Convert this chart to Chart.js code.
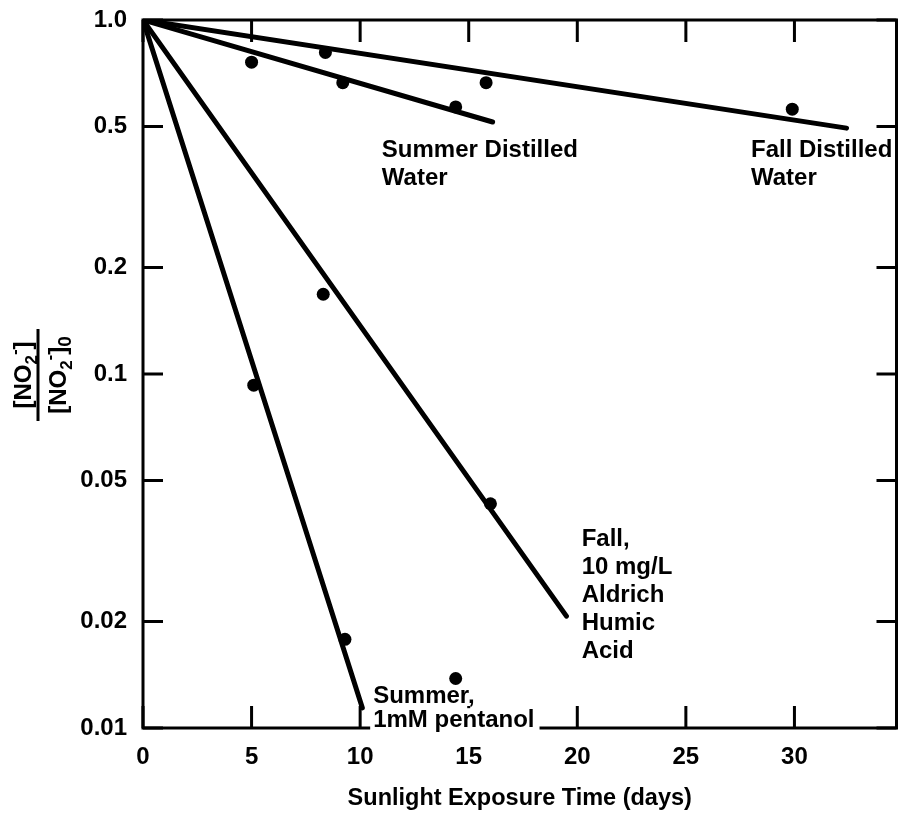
<!DOCTYPE html>
<html>
<head>
<meta charset="utf-8">
<title>Nitrite decay in sunlight</title>
<script src="https://cdn.jsdelivr.net/npm/chart.js@4.4.1/dist/chart.umd.min.js"></script>
<style>
  body { margin: 0; background: #fff; }
  canvas { display: block; }
</style>
</head>
<body>
<canvas id="nitriteChart" width="903" height="823"></canvas>
<script>
const summerWaterDays = [5.0, 9.2, 14.4];
const summerWaterRatio = [0.76, 0.665, 0.568];
const fallWaterDays = [8.4, 15.8, 29.9];
const fallWaterRatio = [0.81, 0.665, 0.56];
const fallHumicDays = [8.3, 16.0];
const fallHumicRatio = [0.168, 0.043];
const summerPentanolDays = [5.1, 9.3, 14.4];
const summerPentanolRatio = [0.093, 0.0178, 0.0138];

// fitted lines: start and end of each
const summerWaterFitDays = [0, 16.1];
const summerWaterFitRatio = [1, 0.515];
const fallWaterFitDays = [0, 32.4];
const fallWaterFitRatio = [1, 0.495];
const fallHumicFitDays = [0, 19.5];
const fallHumicFitRatio = [1, 0.0207];
const summerPentanolFitDays = [0, 10.1];
const summerPentanolFitRatio = [1, 0.0114];

const xTicks = [0, 5, 10, 15, 20, 25, 30];
const yTicks = [0.01, 0.02, 0.05, 0.1, 0.2, 0.5, 1.0];

const FONT = "'Liberation Sans', Arial, Helvetica, sans-serif";
const black = '#000';

function pts(xs, ys) {
  return xs.map((x, i) => ({ x: x, y: ys[i] }));
}

function pointSet(xs, ys) {
  return {
    data: pts(xs, ys),
    showLine: false,
    pointRadius: 6.5,
    pointBackgroundColor: black,
    pointBorderWidth: 0
  };
}

function fitSet(xs, ys) {
  return {
    data: pts(xs, ys),
    showLine: true,
    borderColor: black,
    borderWidth: 5,
    borderCapStyle: 'round',
    pointRadius: 0
  };
}

// curve labels, anchored in data units (left edge, centre of first line)
const curveLabels = [
  { lines: ['Summer Distilled', 'Water'], x: 11.0, y: 0.429, gap: 28 },
  { lines: ['Fall Distilled', 'Water'], x: 28.0, y: 0.429, gap: 28 },
  { lines: ['Fall,', '10 mg/L', 'Aldrich', 'Humic', 'Acid'], x: 20.2, y: 0.034, gap: 28 },
  { lines: ['Summer,', '1mM pentanol'], x: 10.6, y: 0.0123, gap: 24, blank: true }
];

function drawParts(ctx, parts, cx, base, size) {
  let total = 0;
  parts.forEach(p => {
    ctx.font = 'bold ' + Math.round(size * (p.s || 1)) + 'px ' + FONT;
    p.w = ctx.measureText(p.t).width;
    total += p.w;
  });
  let x = cx - total / 2;
  parts.forEach(p => {
    ctx.font = 'bold ' + Math.round(size * (p.s || 1)) + 'px ' + FONT;
    ctx.fillText(p.t, x, base + (p.dy || 0) * size);
    x += p.w;
  });
}

const framePlugin = {
  id: 'frame',
  afterDatasetsDraw(chart) {
    const { ctx, chartArea: a, scales } = chart;
    const xs = scales.x, ys = scales.y;
    ctx.save();
    ctx.strokeStyle = black;
    ctx.lineWidth = 3;
    ctx.lineCap = 'square';
    ctx.strokeRect(a.left, a.top, a.right - a.left, a.bottom - a.top);

    // inward ticks on all four sides
    ctx.lineCap = 'butt';
    xTicks.forEach(v => {
      const px = xs.getPixelForValue(v);
      ctx.beginPath();
      ctx.moveTo(px, a.bottom); ctx.lineTo(px, a.bottom - 22);
      ctx.moveTo(px, a.top); ctx.lineTo(px, a.top + 22);
      ctx.stroke();
    });
    yTicks.forEach(v => {
      const py = ys.getPixelForValue(v);
      ctx.beginPath();
      ctx.moveTo(a.left, py); ctx.lineTo(a.left + 20, py);
      ctx.moveTo(a.right, py); ctx.lineTo(a.right - 20, py);
      ctx.stroke();
    });

    // curve labels
    ctx.fillStyle = black;
    ctx.textBaseline = 'middle';
    ctx.textAlign = 'left';
    ctx.font = 'bold 24px ' + FONT;
    curveLabels.forEach(l => {
      const lx = xs.getPixelForValue(l.x);
      const ly = ys.getPixelForValue(l.y);
      if (l.blank) {
        const w = Math.max(...l.lines.map(t => ctx.measureText(t).width));
        ctx.fillStyle = '#fff';
        ctx.fillRect(lx - 3, ly + l.gap - 12, w + 8, 26);
        ctx.fillStyle = black;
      }
      l.lines.forEach((t, i) => ctx.fillText(t, lx, ly + i * l.gap));
    });

    // y axis title: [NO2-] / [NO2-]0, rotated
    ctx.translate(38, 375);
    ctx.rotate(-Math.PI / 2);
    ctx.textAlign = 'left';
    ctx.textBaseline = 'alphabetic';
    ctx.lineWidth = 3;
    ctx.beginPath();
    ctx.moveTo(-46, 0); ctx.lineTo(46, 0);
    ctx.stroke();
    const size = 24;
    drawParts(ctx, [
      { t: '[NO' }, { t: '2', s: 0.7, dy: 0.25 }, { t: '-', s: 0.7, dy: -0.45 }, { t: ']' }
    ], 0, -7, size);
    drawParts(ctx, [
      { t: '[NO' }, { t: '2', s: 0.7, dy: 0.25 }, { t: '-', s: 0.7, dy: -0.45 }, { t: ']' }, { t: '0', s: 0.8, dy: 0.2 }
    ], 0, 28, size);
    ctx.restore();
  }
};

const config = {
  type: 'scatter',
  data: {
    datasets: [
      fitSet(summerWaterFitDays, summerWaterFitRatio),
      fitSet(fallWaterFitDays, fallWaterFitRatio),
      fitSet(fallHumicFitDays, fallHumicFitRatio),
      fitSet(summerPentanolFitDays, summerPentanolFitRatio),
      pointSet(summerWaterDays, summerWaterRatio),
      pointSet(fallWaterDays, fallWaterRatio),
      pointSet(fallHumicDays, fallHumicRatio),
      pointSet(summerPentanolDays, summerPentanolRatio)
    ]
  },
  options: {
    responsive: false,
    animation: false,
    devicePixelRatio: 1,
    layout: { padding: { top: 20, right: 5, left: 0, bottom: 0 } },
    plugins: {
      legend: { display: false },
      tooltip: { enabled: false }
    },
    scales: {
      x: {
        type: 'linear',
        min: 0,
        max: 34.7,
        afterFit: s => { s.height = 95; s.paddingLeft = 0; s.paddingRight = 0; },
        afterBuildTicks: s => { s.ticks = xTicks.map(v => ({ value: v })); },
        grid: { display: false, drawTicks: false },
        border: { display: false },
        ticks: {
          color: black,
          padding: 15,
          font: { family: FONT, size: 24, weight: 'bold' }
        },
        title: {
          display: true,
          text: 'Sunlight Exposure Time (days)',
          color: black,
          padding: { top: 0, bottom: 10 },
          font: { family: FONT, size: 23.5, weight: 'bold' }
        }
      },
      y: {
        type: 'logarithmic',
        min: 0.01,
        max: 1,
        afterFit: s => { s.width = 143; s.paddingTop = 0; s.paddingBottom = 0; },
        afterBuildTicks: s => { s.ticks = yTicks.map(v => ({ value: v })); },
        grid: { display: false, drawTicks: false },
        border: { display: false },
        ticks: {
          color: black,
          padding: 16,
          font: { family: FONT, size: 24, weight: 'bold' },
          callback: v => (v === 1 ? '1.0' : String(v))
        }
      }
    }
  },
  plugins: [framePlugin]
};

new Chart(document.getElementById('nitriteChart'), config);
</script>
</body>
</html>
